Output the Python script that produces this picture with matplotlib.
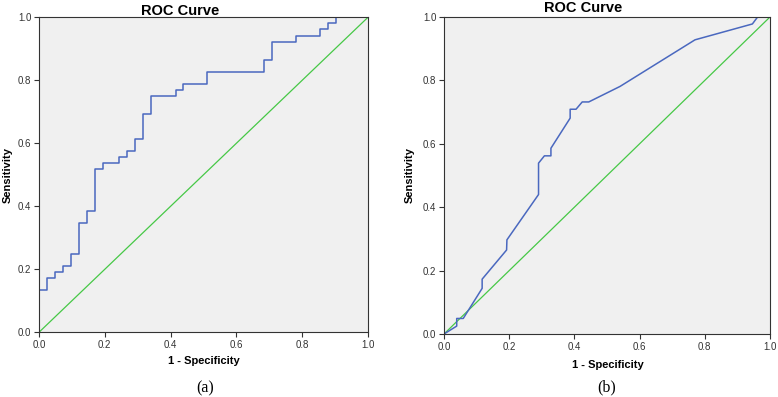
import numpy as np
import matplotlib
matplotlib.use("Agg")
import matplotlib.pyplot as plt

plt.rcParams['font.family'] = ['Liberation Sans', 'DejaVu Sans']

# panel (a): step ROC curve
fpr_a = [0.0, 0.0, 0.024, 0.024, 0.049, 0.049, 0.073, 0.073, 0.098, 0.098,
         0.122, 0.122, 0.146, 0.146, 0.171, 0.171, 0.195, 0.195, 0.244, 0.244,
         0.268, 0.268, 0.293, 0.293, 0.317, 0.317, 0.341, 0.341, 0.415, 0.415,
         0.439, 0.439, 0.512, 0.512, 0.683, 0.683, 0.707, 0.707, 0.780, 0.780,
         0.854, 0.854, 0.878, 0.878, 0.902, 0.902, 1.0]
tpr_a = [0.0, 0.135, 0.135, 0.173, 0.173, 0.192, 0.192, 0.212, 0.212, 0.250,
         0.250, 0.346, 0.346, 0.385, 0.385, 0.519, 0.519, 0.538, 0.538, 0.558,
         0.558, 0.577, 0.577, 0.615, 0.615, 0.692, 0.692, 0.750, 0.750, 0.769,
         0.769, 0.788, 0.788, 0.827, 0.827, 0.865, 0.865, 0.923, 0.923, 0.942,
         0.942, 0.962, 0.962, 0.981, 0.981, 1.0, 1.0]

# panel (b): ROC curve with sloped segments
fpr_b = [0.0, 0.039, 0.039, 0.059, 0.117, 0.117, 0.192, 0.193, 0.290, 0.290,
         0.308, 0.328, 0.328, 0.387, 0.387, 0.405, 0.424, 0.444, 0.540, 0.770,
         0.946, 0.962, 1.0]
tpr_b = [0.0, 0.025, 0.049, 0.049, 0.144, 0.173, 0.265, 0.297, 0.440, 0.539,
         0.562, 0.562, 0.586, 0.681, 0.709, 0.709, 0.732, 0.732, 0.781, 0.928,
         0.978, 1.0, 1.0]

ticks = [0.0, 0.2, 0.4, 0.6, 0.8, 1.0]
blue = "#4a68bf"
green = "#46c846"

fig = plt.figure(figsize=(7.78, 3.97), dpi=100)
fig.patch.set_facecolor("white")

ax1 = fig.add_axes([0.0501, 0.163, 0.4229, 0.7935])
ax2 = fig.add_axes([0.5707, 0.1587, 0.419, 0.7985])

for ax, fx, ty in [(ax1, fpr_a, tpr_a), (ax2, fpr_b, tpr_b)]:
    ax.set_facecolor("#f0f0f0")
    ax.plot([0, 1], [0, 1], color=green, lw=0.9)
    ax.plot(fx, ty, color=blue, lw=1.1)
    ax.set_xlim(0, 1)
    ax.set_ylim(0, 1)
    ax.set_xticks(ticks)
    ax.set_yticks(ticks)
    ax.set_xticklabels(["%.1f" % t for t in ticks])
    ax.set_yticklabels(["%.1f" % t for t in ticks])
    ax.tick_params(direction="out", length=3.5, width=0.8, labelsize=7,
                   colors="#333333", pad=2)
    for s in ax.spines.values():
        s.set_color("#333333")
        s.set_linewidth(0.8)

# titles, axis labels, panel tags placed in figure pixels
W, H = 778.0, 397.0
def ftxt(x, y, s, **kw):
    fig.text(x / W, 1 - y / H, s, ha="center", va="center", **kw)

ftxt(180, 11, "ROC Curve", fontsize=10.5, fontweight="bold")
ftxt(583, 8, "ROC Curve", fontsize=10.5, fontweight="bold")
ftxt(204, 361, "1 - Specificity", fontsize=8, fontweight="bold")
ftxt(608, 365, "1 - Specificity", fontsize=8, fontweight="bold")
ftxt(8, 175, "Sensitivity", fontsize=8, fontweight="bold", rotation=90)
ftxt(410, 175, "Sensitivity", fontsize=8, fontweight="bold", rotation=90)
ftxt(205, 388, "(a)", fontsize=11.5, family="Liberation Serif")
ftxt(607, 387, "(b)", fontsize=11.5, family="Liberation Serif")

fig.savefig("out.png", dpi=100)
